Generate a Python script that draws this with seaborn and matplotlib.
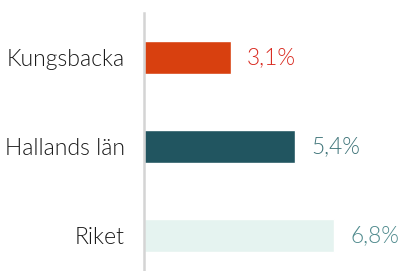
import matplotlib
matplotlib.use("Agg")
import matplotlib.pyplot as plt
import seaborn as sns
import pandas as pd

categories = ["Kungsbacka", "Hallands län", "Riket"]
values = [3.1, 5.4, 6.8]
labels = ["3,1%", "5,4%", "6,8%"]
bar_colors = ["#d8400f", "#215560", "#e5f3f0"]
label_colors = ["#d92a20", "#3f7479", "#4f8a8d"]

sns.set_theme(style="white")
plt.rcParams["font.family"] = ["Lato", "DejaVu Sans"]

df = pd.DataFrame({"cat": categories, "val": values})

fig = plt.figure(figsize=(4.02, 2.71), dpi=100)
ax = fig.add_axes([144/402, 1 - 270/271, 258/402, 257/271])
sns.barplot(data=df, y="cat", x="val", hue="cat", palette=bar_colors,
            width=0.37, legend=False, ax=ax, saturation=1, orient="h")
ax.set_xlim(0, 258/28.0)
ax.set_ylim(2.39, -0.5)
ax.set_xlabel("")
ax.set_ylabel("")
ax.set_xticks([])
for s in ["top", "right", "bottom"]:
    ax.spines[s].set_visible(False)
ax.spines["left"].set_color("#d4d4d4")
ax.spines["left"].set_linewidth(1.8)
ax.tick_params(axis="y", length=0, pad=14, labelsize=16.6, labelcolor="#1a1a1a")
for t in ax.get_yticklabels():
    t.set_fontweight(300)
for i, (v, lab, c) in enumerate(zip(values, labels, label_colors)):
    ax.annotate(lab, xy=(v, i), xytext=(16, 0), textcoords="offset pixels",
                va="center", ha="left", fontsize=16.3, color=c, fontweight=300)
fig.savefig("out.png", dpi=100)
